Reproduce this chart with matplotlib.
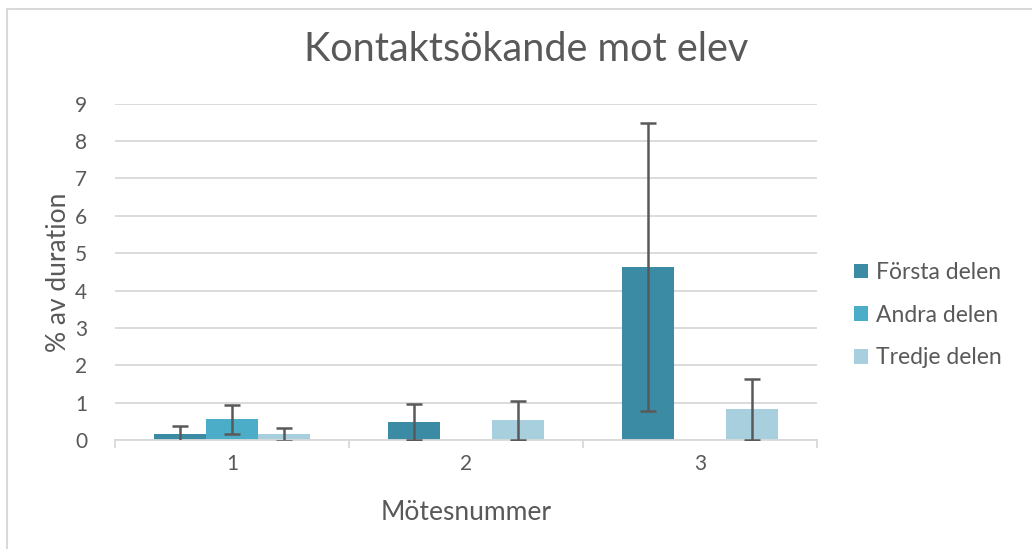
import matplotlib.pyplot as plt
import numpy as np
from matplotlib.patches import Rectangle

# data
meetings = ["1", "2", "3"]
series = ["Första delen", "Andra delen", "Tredje delen"]
forsta = [0.15, 0.48, 4.64]
andra = [0.55, 0.0, 0.0]
tredje = [0.15, 0.53, 0.82]
forsta_err = [0.22, 0.48, 3.85]
andra_err = [0.39, 0.0, 0.0]
tredje_err = [0.17, 0.52, 0.81]

colors = ['#3A8BA3', '#4BADC7', '#A8CFDD']
grey = '#595959'

plt.rcParams['font.family'] = ['Lato', 'DejaVu Sans']

fig = plt.figure(figsize=(10.32, 5.49), dpi=100)
ax = fig.add_axes([0.1115, 0.1985, 0.68, 0.6125])

x = np.arange(len(meetings))
width = 0.223
values = [forsta, andra, tredje]
errs = [forsta_err, andra_err, tredje_err]
for i, (vals, err, color, name) in enumerate(zip(values, errs, colors, series)):
    pos = x + (i - 1) * width
    ax.bar(pos, vals, width, color=color, label=name, zorder=2)
    mask = np.array(err) > 0
    ax.errorbar(pos[mask], np.array(vals)[mask], yerr=np.array(err)[mask],
                fmt='none', ecolor=grey, elinewidth=1.8, capsize=5.5,
                capthick=1.8, zorder=3)

ax.set_xlim(-0.5, 2.5)
ax.set_ylim(0, 9)
ax.set_yticks(range(10))
ax.set_xticks(x)
ax.set_xticklabels(meetings)
ax.tick_params(axis='y', length=0, pad=20, labelsize=15, labelcolor=grey)
ax.tick_params(axis='x', length=0, pad=10, labelsize=15, labelcolor=grey)
ax.grid(axis='y', color='#D9D9D9', linewidth=1.3, zorder=0)
ax.set_axisbelow(True)
for s in ['top', 'right', 'left']:
    ax.spines[s].set_visible(False)
ax.spines['bottom'].set_color('#D9D9D9')
ax.spines['bottom'].set_linewidth(1.3)
# category separator ticks
for b in [-0.5, 0.5, 1.5, 2.5]:
    ax.plot([b, b], [0, -0.18], color='#D9D9D9', lw=1.3, clip_on=False, zorder=1)

ax.set_ylabel('% av duration', fontsize=19, color=grey, labelpad=3)
ax.set_xlabel('Mötesnummer', fontsize=19, color=grey, labelpad=19)
fig.text(0.51, 0.909, 'Kontaktsökande mot elev', fontsize=28.5, color=grey,
         ha='center', va='center')

ax.legend(loc='center left', bbox_to_anchor=(0.828, 0.426),
          bbox_transform=fig.transFigure, frameon=False, borderpad=0,
          borderaxespad=0, fontsize=16.5, labelcolor=grey, handlelength=0.6,
          handleheight=0.6, handletextpad=0.35, labelspacing=0.95)

# chart border
fig.add_artist(Rectangle((7 / 1032, -0.1), 1.2, 1 - 9 / 549 + 0.1,
                         transform=fig.transFigure, fill=False,
                         edgecolor='#D9D9D9', lw=1.5))

plt.savefig('out.png', dpi=100)
